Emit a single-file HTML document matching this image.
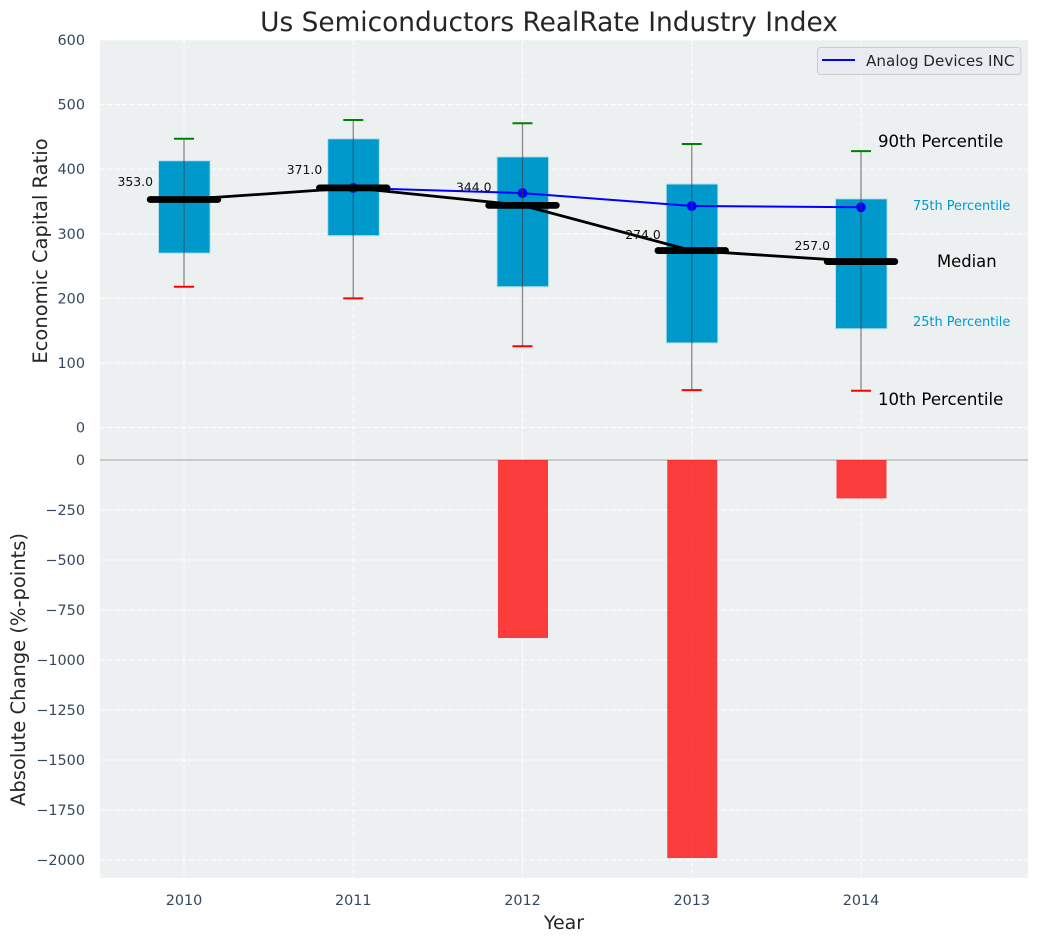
<!DOCTYPE html>
<html>
<head>
<meta charset="utf-8">
<title>Us Semiconductors RealRate Industry Index</title>
<style>
html,body{margin:0;padding:0;background:#fff;width:1039px;height:942px;overflow:hidden}
svg{display:block;font-family:"DejaVu Sans","Liberation Sans",sans-serif}
</style>
</head>
<body>
<svg id="chart" xmlns="http://www.w3.org/2000/svg" width="1039" height="942" viewBox="0 0 1039 942">
  <rect x="100" y="40" width="928" height="838" fill="#ecf0f1"/>
  <g id="grid"></g>
  <g id="lower"></g>
  <g id="upper"></g>
  <g id="ticks"></g>
  <text x="549" y="31" font-size="26.4" fill="#262626" text-anchor="middle">Us Semiconductors RealRate Industry Index</text>
  <text transform="translate(47,251) rotate(-90)" font-size="19.5" fill="#262626" text-anchor="middle">Economic Capital Ratio</text>
  <text transform="translate(25,669.5) rotate(-90)" font-size="19.5" fill="#262626" text-anchor="middle">Absolute Change (%-points)</text>
  <text x="564" y="929" font-size="19" fill="#262626" text-anchor="middle">Year</text>
  <g>
    <rect x="817.5" y="47.5" width="203.5" height="27" rx="3" fill="#eaeaf2" fill-opacity="0.8" stroke="#cccccc"/>
    <line x1="822" y1="60" x2="855" y2="60" stroke="#0000ff" stroke-width="2"/>
    <text x="866" y="66" font-size="15.2" fill="#262626">Analog Devices INC</text>
  </g>
  <g>
    <text x="878" y="147" font-size="16.6" fill="#000">90th Percentile</text>
    <text x="913" y="210" font-size="12.9" fill="#0099cc">75th Percentile</text>
    <text x="937" y="267" font-size="16.4" fill="#000">Median</text>
    <text x="913" y="326" font-size="12.9" fill="#0099cc">25th Percentile</text>
    <text x="878" y="405" font-size="16.6" fill="#000">10th Percentile</text>
  </g>
</svg>
<script>
const years = [2010, 2011, 2012, 2013, 2014];
const p90 = [447, 476, 471, 439, 428];
const p75 = [413, 447, 419, 377, 354];
const medians = [353, 371, 344, 274, 257];
const p25 = [270, 297, 218, 131, 153];
const p10 = [218, 200, 126, 58, 57];
const companyYears = [2011, 2012, 2013, 2014];
const companyValues = [371, 363, 343, 341];
const changes = [0, 0, -890, -1990, -192];
const upperTicks = [0, 100, 200, 300, 400, 500, 600];
const lowerTicks = [0, -250, -500, -750, -1000, -1250, -1500, -1750, -2000];

const NS = 'http://www.w3.org/2000/svg';
const xPos = v => 184 + (v - 2010) * 169.25;
const yUp = v => 427.6 - v * 0.6461;
const yLower = v => 460 - v * 0.2;

function add(parent, tag, props, text) {
  const el = document.createElementNS(NS, tag);
  for (const k in props) el.setAttribute(k, props[k]);
  if (text !== undefined) el.textContent = text;
  parent.appendChild(el);
  return el;
}
const grid = document.getElementById('grid');
const upper = document.getElementById('upper');
const lower = document.getElementById('lower');
const ticks = document.getElementById('ticks');
const dash = '5 2.4';
const gridOpacity = 0.85;

upperTicks.forEach(t => {
  const g = add(grid, 'line', {x1: 100, x2: 1028, y1: yUp(t), y2: yUp(t), stroke: '#fff', 'stroke-width': 1.1, 'stroke-opacity': gridOpacity, 'stroke-dasharray': dash});
  
  
  const l = add(ticks, 'text', {x: 85, y: yUp(t) + 5, 'font-size': 14.4, fill: '#34495e', 'text-anchor': 'end'}, String(t));
  
  
});
lowerTicks.forEach(t => {
  if (t !== 0) {
    const g = add(grid, 'line', {x1: 100, x2: 1028, y1: yLower(t), y2: yLower(t), stroke: '#fff', 'stroke-width': 1.1, 'stroke-opacity': gridOpacity, 'stroke-dasharray': dash});
    
    
  }
  const l = add(ticks, 'text', {x: 85, y: yLower(t) + 5, 'font-size': 14.4, fill: '#34495e', 'text-anchor': 'end'}, String(t).replace('-', '\u2212'));
  
  
});
years.forEach(y => {
  const g = add(grid, 'line', {x1: xPos(y), x2: xPos(y), y1: 40, y2: 878, stroke: '#fff', 'stroke-width': 1.1, 'stroke-opacity': gridOpacity, 'stroke-dasharray': dash});
  
  
  const l = add(ticks, 'text', {x: xPos(y), y: 905, 'font-size': 14.4, fill: '#34495e', 'text-anchor': 'middle'}, String(y));
  
  
});

const zero = add(lower, 'line', {x1: 100, x2: 1028, y1: 460, y2: 460, stroke: '#bdbdbd', 'stroke-width': 1.5});


years.forEach((y, i) => {
  if (changes[i] === 0) return;
  const b = add(lower, 'rect', {x: xPos(y) - 24.5, y: yLower(0), width: 50, height: yLower(changes[i]) - yLower(0), fill: '#ff0000', 'fill-opacity': 0.75});
  
  
});

years.forEach((y, i) => {
  const b = add(upper, 'rect', {x: xPos(y) - 25.5, y: yUp(p75[i]), width: 51.6, height: yUp(p25[i]) - yUp(p75[i]), fill: '#0099cc', stroke: '#b8dfec', 'stroke-width': 1});
  
  
});
const medianPath = add(upper, 'polyline', {points: years.map((y, i) => xPos(y) + ',' + yUp(medians[i])).join(' '), fill: 'none', stroke: '#000', 'stroke-width': 2.8});


const companyPath = add(upper, 'polyline', {points: companyYears.map((y, i) => xPos(y) + ',' + yUp(companyValues[i])).join(' '), fill: 'none', stroke: '#0000ff', 'stroke-width': 2});


companyYears.forEach((y, i) => {
  const p = add(upper, 'circle', {cx: xPos(y), cy: yUp(companyValues[i]), r: 4.9, fill: '#0000ff'});
  
  
});
years.forEach((y, i) => {
  const x = xPos(y);
  const w = add(upper, 'line', {x1: x, x2: x, y1: yUp(p90[i]), y2: yUp(p10[i]), stroke: '#404040', 'stroke-opacity': 0.6, 'stroke-width': 1.3});
  
  
  const hi = add(upper, 'line', {x1: x - 10, x2: x + 10, y1: yUp(p90[i]), y2: yUp(p90[i]), stroke: '#008000', 'stroke-width': 2});
  
  
  const lo = add(upper, 'line', {x1: x - 10, x2: x + 10, y1: yUp(p10[i]), y2: yUp(p10[i]), stroke: '#ff0000', 'stroke-width': 2});
  
  
  const m = add(upper, 'line', {x1: x - 33.8, x2: x + 33.8, y1: yUp(medians[i]), y2: yUp(medians[i]), stroke: '#000', 'stroke-width': 6.8, 'stroke-linecap': 'round'});
  
  
  const lift = medians[i] > 300 ? 13.7 : 11.5;
  const t = add(upper, 'text', {x: x - 31, y: yUp(medians[i]) - lift, 'font-size': 12.4, fill: '#111', 'text-anchor': 'end'}, medians[i].toFixed(1));
  
  
});
</script>
</body>
</html>
